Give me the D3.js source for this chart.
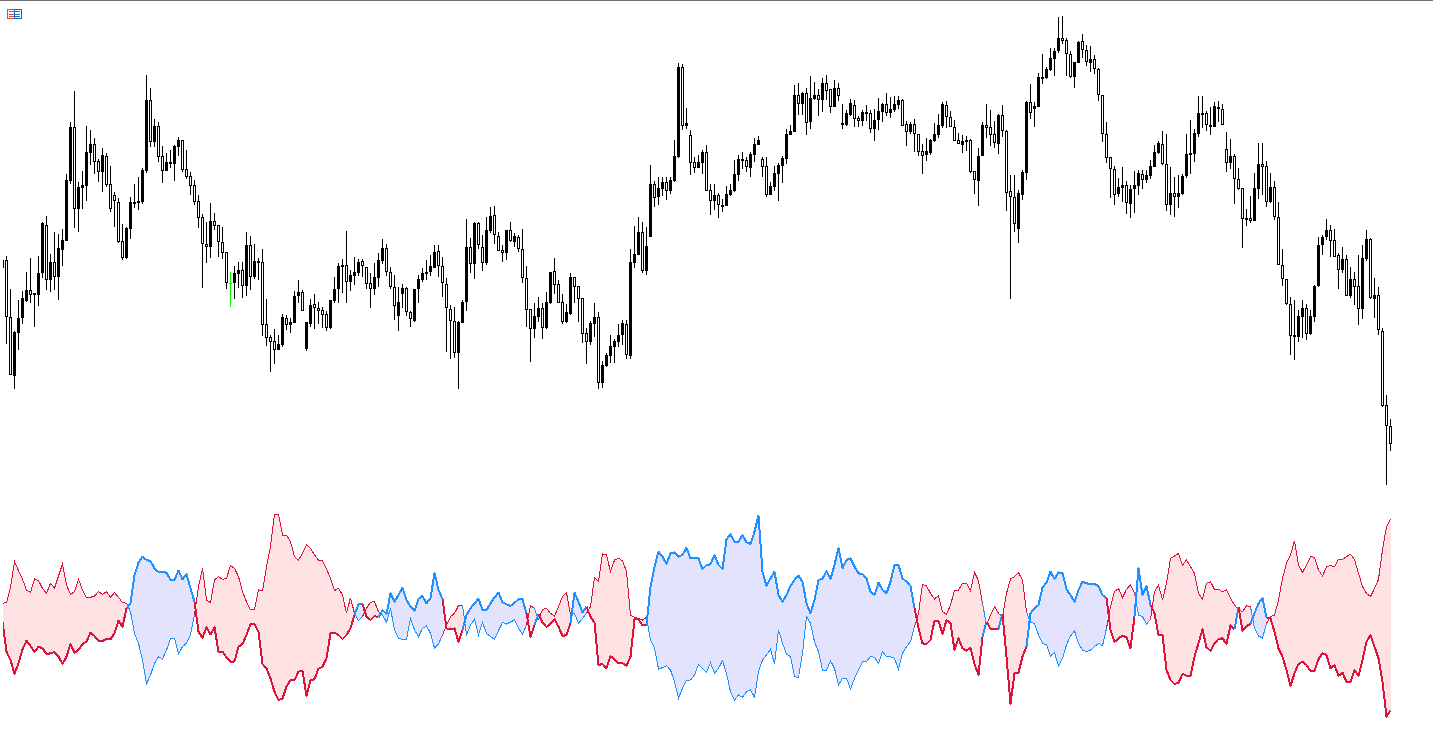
<!DOCTYPE html>
<html>
<head>
<meta charset="utf-8">
<script src="https://cdn.jsdelivr.net/npm/d3@7"></script>
<style>
html,body{margin:0;padding:0;background:#fff;overflow:hidden}
svg{display:block}
</style>
</head>
<body>
<svg id="chart" width="1433" height="755"></svg>
<script>
const highs = [
240,244,211,169,200,209,228,242,207,244,
278,284,246,268,266,271,326,378,409,318,
329,374,370,362,341,352,347,334,308,302,
276,273,303,316,323,332,425,412,381,378,
354,347,350,355,363,360,350,328,320,305,
286,278,297,287,275,273,248,228,234,238,
238,268,264,256,242,251,201,165,171,165,
186,185,182,209,220,210,178,201,206,198,
193,189,200,223,237,241,269,230,243,241,
241,233,227,237,247,261,256,233,225,213,
216,213,189,211,225,232,240,245,255,255,
243,222,195,193,179,200,281,262,278,278,
265,283,293,294,268,255,270,278,267,265,
271,234,191,197,203,197,208,228,242,220,
206,196,227,223,214,202,172,179,197,188,
139,147,165,161,176,180,180,251,274,283,
278,273,335,319,323,323,323,323,360,437,
436,392,370,343,345,350,355,316,316,307,
301,314,316,340,345,348,343,348,362,364,
343,343,318,334,337,344,371,375,415,417,
408,412,424,418,411,422,425,411,420,417,
396,390,401,400,384,390,395,390,391,402,
397,407,403,404,404,401,379,378,381,366,
356,362,361,377,386,398,399,389,380,367,
365,364,361,329,352,378,396,390,379,386,
395,370,325,325,310,330,399,416,398,427,
446,433,452,452,483,484,462,449,438,459,
466,455,454,445,432,405,378,343,334,322,
333,319,315,329,330,330,330,340,355,359,
369,366,333,323,325,326,366,380,371,404,
404,389,393,398,399,396,368,361,346,332,
312,291,304,327,357,357,339,327,319,298,
251,221,203,200,190,200,196,190,215,263,
265,281,275,271,247,253,245,233,228,245,
255,270,262,222,213,172,105,81];
const lows = [
232,156,125,111,150,176,198,197,173,194,
222,210,208,210,200,234,259,316,272,268,
291,299,335,326,318,308,313,288,273,257,
240,241,261,292,290,296,327,353,353,338,
317,329,332,319,344,328,321,305,295,272,
212,237,242,270,243,241,211,193,201,212,
202,204,210,221,220,164,154,128,136,150,
153,170,167,177,197,189,149,173,171,176,
172,169,171,197,197,207,197,209,215,224,
223,211,192,205,213,236,224,211,180,169,
192,184,173,178,197,218,220,224,232,223,
203,148,141,142,111,177,189,227,221,251,
229,235,267,256,249,238,240,258,253,248,
217,173,138,162,178,161,171,196,206,197,
176,177,185,197,178,157,136,155,163,111,
112,133,137,137,153,155,141,141,232,245,
227,225,263,293,295,304,300,306,318,342,
370,371,325,327,332,326,309,285,290,282,
288,294,304,308,319,331,328,323,338,355,
323,303,305,309,299,317,336,365,368,385,
385,365,371,400,384,388,400,387,393,399,
371,374,384,373,373,374,379,367,359,370,
378,384,382,388,391,374,354,366,348,344,
326,339,345,358,362,372,372,373,359,356,
347,349,327,306,294,344,362,354,352,346,
363,289,201,268,257,300,320,381,373,393,
416,421,429,424,447,456,424,422,412,437,
442,434,428,426,399,358,337,302,295,303,
298,286,282,287,305,311,317,321,333,346,
335,289,285,283,292,305,322,326,338,363,
372,369,365,373,378,375,328,331,296,310,
252,274,277,279,301,305,293,297,280,235,
214,195,145,140,158,162,160,165,178,213,
245,260,243,243,211,227,204,202,195,175,
181,239,201,182,165,93,15,49];
const opens = [
240,240,183,124,167,182,199,210,205,205,
227,275,220,238,223,250,259,319,373,291,
312,314,347,356,339,328,344,316,305,298,
259,242,271,297,297,298,329,400,358,374,
344,329,336,336,353,360,331,324,315,299,
283,256,253,279,275,258,248,217,217,226,
230,214,255,223,237,238,176,163,159,150,
155,182,175,177,204,208,151,176,196,192,
190,186,172,199,211,233,235,218,224,227,
239,233,217,211,222,239,252,228,213,184,
206,212,188,179,211,220,226,228,232,249,
234,216,191,179,147,177,198,253,236,277,
253,237,269,285,264,250,247,270,258,263,
251,222,191,171,183,192,172,197,229,216,
198,178,186,223,214,202,167,158,176,183,
117,134,144,153,158,165,176,144,237,245,
268,229,263,316,303,311,318,309,319,343,
433,374,365,338,332,337,348,310,299,305,
294,294,305,309,325,339,340,332,345,355,
341,334,305,313,326,334,341,365,368,405,
396,407,378,401,405,400,417,411,393,412,
375,375,385,395,382,379,387,387,371,380,
388,396,387,390,395,400,376,368,376,366,
349,345,347,359,365,374,395,383,373,360,
355,358,360,329,319,344,375,373,366,356,
385,369,309,303,271,305,327,398,391,393,
422,422,430,441,449,462,460,446,423,437,
459,450,437,441,431,405,366,343,331,306,
312,315,296,311,314,326,320,324,333,347,
356,336,295,307,303,306,324,345,346,366,
386,387,373,373,393,391,351,337,344,321,
312,282,282,279,311,336,334,298,313,283,
235,221,196,164,163,183,192,166,183,214,
255,263,270,260,245,230,241,204,221,214,
191,241,261,201,205,169,95,74];
const closes = [
232,183,125,168,182,202,210,205,207,227,
277,220,238,223,252,260,320,373,291,313,
315,348,356,338,328,345,315,291,299,258,
242,272,298,298,299,330,400,358,374,343,
329,338,338,354,360,330,323,314,298,282,
256,253,279,274,258,247,217,216,227,230,
214,255,223,239,239,175,162,158,150,156,
183,175,178,204,208,189,178,195,192,189,
185,172,200,211,234,235,218,225,228,238,
234,216,211,223,240,252,228,213,194,198,
212,188,181,211,221,227,228,234,248,234,
217,192,179,147,178,198,253,236,277,255,
237,270,284,265,249,247,270,259,264,251,
222,190,171,184,192,172,198,228,215,197,
178,188,223,213,201,166,158,177,183,117,
135,145,154,159,165,177,145,238,246,268,
229,254,316,302,312,318,309,320,344,433,
374,377,337,332,338,348,309,299,305,295,
295,306,310,326,341,341,333,346,356,360,
333,305,314,327,335,342,366,369,405,396,
407,377,402,405,400,417,409,393,412,404,
377,387,397,381,379,388,388,371,380,389,
396,387,391,396,400,374,368,376,366,348,
344,349,360,366,375,396,383,373,359,356,
359,360,328,320,344,375,372,365,357,385,
369,307,303,276,307,328,398,387,394,423,
423,431,442,449,462,459,446,423,438,458,
450,438,441,431,405,366,342,331,305,313,
315,297,311,315,327,320,325,334,348,357,
336,295,307,303,307,324,346,347,367,387,
387,375,375,394,391,375,337,344,321,311,
281,281,279,312,336,333,298,313,283,235,
221,196,164,165,184,192,166,184,214,255,
263,270,259,243,230,241,204,221,213,191,
242,261,202,205,170,94,74,56];
const highlightedBar = 57;

const fastLine = [
-5,-95,-120,-162,-130,-88,-62,-78,-96,-80,
-85,-102,-100,-96,-110,-132,-110,-72,-98,-90,
-72,-65,-38,-48,-62,-63,-57,-58,-40,-2,
-20,35,50,135,172,190,180,177,155,144,
144,142,120,120,148,122,138,95,55,-35,
-53,-22,-43,-22,-95,-95,-112,-126,-124,-80,
-72,-45,-12,-12,-35,-132,-145,-175,-215,-240,
-236,-200,-180,-180,-155,-152,-228,-180,-178,-146,
-140,-115,-40,-38,-45,-57,-45,-25,15,48,
48,10,0,12,8,30,18,80,55,75,
97,60,40,28,63,72,50,65,142,90,
63,-25,-28,-25,-65,-30,15,35,50,64,
30,30,50,68,82,53,47,42,52,62,
62,20,-50,-15,18,-8,-21,-12,2,-20,
-48,-45,-10,82,55,23,40,10,-8,-135,
-132,-145,-108,-118,-130,-130,-137,-110,2,2,
-16,-15,100,160,205,190,168,200,203,190,
195,217,185,185,185,153,165,167,195,165,
153,242,257,234,234,255,233,228,265,313,
145,102,125,145,75,55,75,102,120,133,
115,50,20,60,120,124,147,123,165,217,
155,180,185,160,140,138,125,85,75,112,
90,80,115,165,165,125,115,102,35,-25,
-70,-72,-60,-2,-2,-42,0,-10,-90,-55,
-85,-92,-83,-132,-165,-50,-5,-26,-26,-26,
18,-110,-252,-160,-158,-110,-80,20,35,45,
98,112,145,123,143,140,92,75,55,90,
115,110,108,108,102,75,65,-30,-66,-55,
-47,-52,-85,10,155,75,102,45,20,-45,
-45,-150,-180,-192,-188,-162,-167,-167,-110,-70,
-28,-82,-92,-70,-57,-55,-72,-15,-28,38,
-32,-18,-12,20,50,65,8,5,-35,-85,
-110,-150,-198,-160,-132,-125,-135,-152,-152,-118,
-100,-105,-145,-135,-168,-158,-186,-186,-150,-167,
-120,-65,-45,-80,-115,-185,-290,-272];
const slowLine = [
50,52,98,175,148,122,90,83,123,118,
95,80,110,96,132,168,105,77,85,122,
90,67,68,72,85,77,85,68,82,68,
52,50,25,-40,-70,-120,-192,-165,-130,-110,
-117,-90,-55,-55,-102,-80,-70,-45,15,100,
155,60,52,120,130,122,125,163,155,130,
85,55,30,32,90,88,160,220,318,318,
255,255,235,190,180,200,225,215,195,180,
177,153,125,88,95,75,20,67,20,-2,
10,35,53,55,25,15,-7,35,-30,-55,
-58,-58,5,-30,-50,-25,-18,-40,-85,-72,
-45,-15,10,20,43,45,-45,-15,2,-45,
-7,-40,-50,-58,-32,-7,-12,-6,0,-25,
-43,-15,43,35,0,32,35,20,12,40,
70,82,15,20,-10,5,20,40,128,115,
198,195,145,180,185,178,145,15,8,5,
0,8,-60,-85,-147,-143,-137,-150,-185,-235,
-205,-181,-180,-165,-133,-145,-158,-128,-160,-145,
-122,-160,-215,-240,-225,-232,-215,-210,-232,-155,
-120,-105,-88,-132,-30,-70,-102,-110,-170,-173,
-100,10,-10,-65,-95,-150,-152,-122,-145,-195,
-175,-175,-207,-175,-150,-125,-124,-110,-112,-130,
-95,-110,-110,-115,-148,-100,-80,-65,-20,20,
107,102,80,63,73,25,17,45,88,90,
110,110,88,143,118,50,-15,15,40,20,
10,80,123,130,142,120,25,-8,-10,-45,
-70,-75,-108,-98,-138,-115,-75,-48,-33,-70,
-90,-95,-90,-80,-70,-77,-25,40,85,95,
67,92,105,80,15,10,-12,2,85,105,
60,110,185,192,200,165,180,160,140,80,
62,110,115,92,92,85,90,65,45,30,
25,43,40,-25,-48,-54,-10,10,15,60,
125,170,195,238,165,143,165,190,188,150,
132,160,163,160,182,182,190,197,182,140,
100,80,70,95,122,210,280,302];

const bullColor = "#1E90FF", bearColor = "#DC143C";
const bullFill = "#E3E3FD", bearFill = "#FFE3E4";

const svg = d3.select("#chart");
const defs = svg.append("defs");
defs.append("clipPath").attr("id","plot").append("rect")
  .attr("x",3).attr("y",0).attr("width",1389).attr("height",755);

// window chrome
svg.append("rect").attr("x",0).attr("y",0).attr("width",1433).attr("height",1).attr("fill","#6e6e6e");

const bars = d3.range(highs.length);
const x = d3.scaleLinear().domain([0, highs.length - 1]).range([2, 1390]);
const price = d3.scaleLinear().domain([0, 500]).range([500, 0]);
const osc = d3.scaleLinear().domain([-360, 360]).range([740, 500]);

// candles
const candles = svg.append("g").attr("clip-path","url(#plot)").attr("shape-rendering","crispEdges");
candles.selectAll("rect.wick").data(bars).join("rect").attr("class","wick")
  .attr("x", i => x(i)).attr("width", 1)
  .attr("y", i => price(highs[i])).attr("height", i => price(lows[i]) - price(highs[i]))
  .attr("fill", i => i === highlightedBar ? "#00FF00" : "#000");
const bodyTop = i => price(Math.max(opens[i], closes[i]));
const bodyBot = i => price(Math.min(opens[i], closes[i]));
candles.selectAll("rect.body").data(bars).join("rect").attr("class","body")
  .each(function(i){
    const s = d3.select(this);
    const t = bodyTop(i), h = Math.max(1, bodyBot(i) - t);
    if (i === highlightedBar) {
      s.attr("x", x(i)-1).attr("y", t).attr("width", 3).attr("height", 1).attr("fill", "#00FF00");
    } else if (closes[i] >= opens[i] || h < 2) {
      s.attr("x", x(i)-1).attr("y", t).attr("width", 3).attr("height", Math.max(2,h)).attr("fill", "#000");
    } else {
      s.attr("x", x(i)-0.5).attr("y", t+0.5).attr("width", 2).attr("height", h-1)
       .attr("fill", "#fff").attr("stroke", "#000").attr("stroke-width", 1);
    }
  });

// oscillator: runs of one state, coloured by the state at the right-hand point
const isBull = i => fastLine[i] > slowLine[i];
const runs = [];
for (let i = 1; i < bars.length; i++) {
  const s = isBull(i), last = runs[runs.length-1];
  if (last && last.bull === s) last.idx.push(i);
  else runs.push({bull: s, idx: [i-1, i]});
}
const area = d3.area().x(i => x(i) + 0.5).y0(i => osc(slowLine[i])).y1(i => osc(fastLine[i]));
const lineF = d3.line().x(i => x(i) + 0.5).y(i => osc(fastLine[i]));
const lineS = d3.line().x(i => x(i) + 0.5).y(i => osc(slowLine[i]));
const gOsc = svg.append("g").attr("clip-path","url(#plot)");
gOsc.selectAll("path.fill").data(runs).join("path").attr("class","fill")
  .attr("d", d => area(d.idx)).attr("fill", d => d.bull ? bullFill : bearFill)
  .attr("shape-rendering","crispEdges");
gOsc.selectAll("path.slow").data(runs).join("path").attr("class","slow")
  .attr("d", d => lineS(d.idx)).attr("fill","none")
  .attr("stroke", d => d.bull ? bullColor : bearColor).attr("stroke-width",1)
  .attr("shape-rendering","crispEdges");
gOsc.selectAll("path.fast").data(runs).join("path").attr("class","fast")
  .attr("d", d => lineF(d.idx)).attr("fill","none")
  .attr("stroke", d => d.bull ? bullColor : bearColor).attr("stroke-width",2)
  .attr("stroke-linejoin","round").attr("shape-rendering","crispEdges");

// small template icon at top left
const icon = svg.append("g").attr("shape-rendering","crispEdges");
icon.append("rect").attr("x",7.5).attr("y",9.5).attr("width",7).attr("height",9).attr("fill","#fff").attr("stroke","#e0463a");
icon.append("rect").attr("x",14.5).attr("y",9.5).attr("width",7).attr("height",9).attr("fill","#fff").attr("stroke","#1268b3");
[11,14,16].forEach(yy => {
  icon.append("rect").attr("x",9).attr("y",yy).attr("width",5).attr("height",1).attr("fill","#e0463a");
  icon.append("rect").attr("x",15).attr("y",yy).attr("width",5).attr("height",1).attr("fill","#1e78c8");
});
</script>
</body>
</html>
